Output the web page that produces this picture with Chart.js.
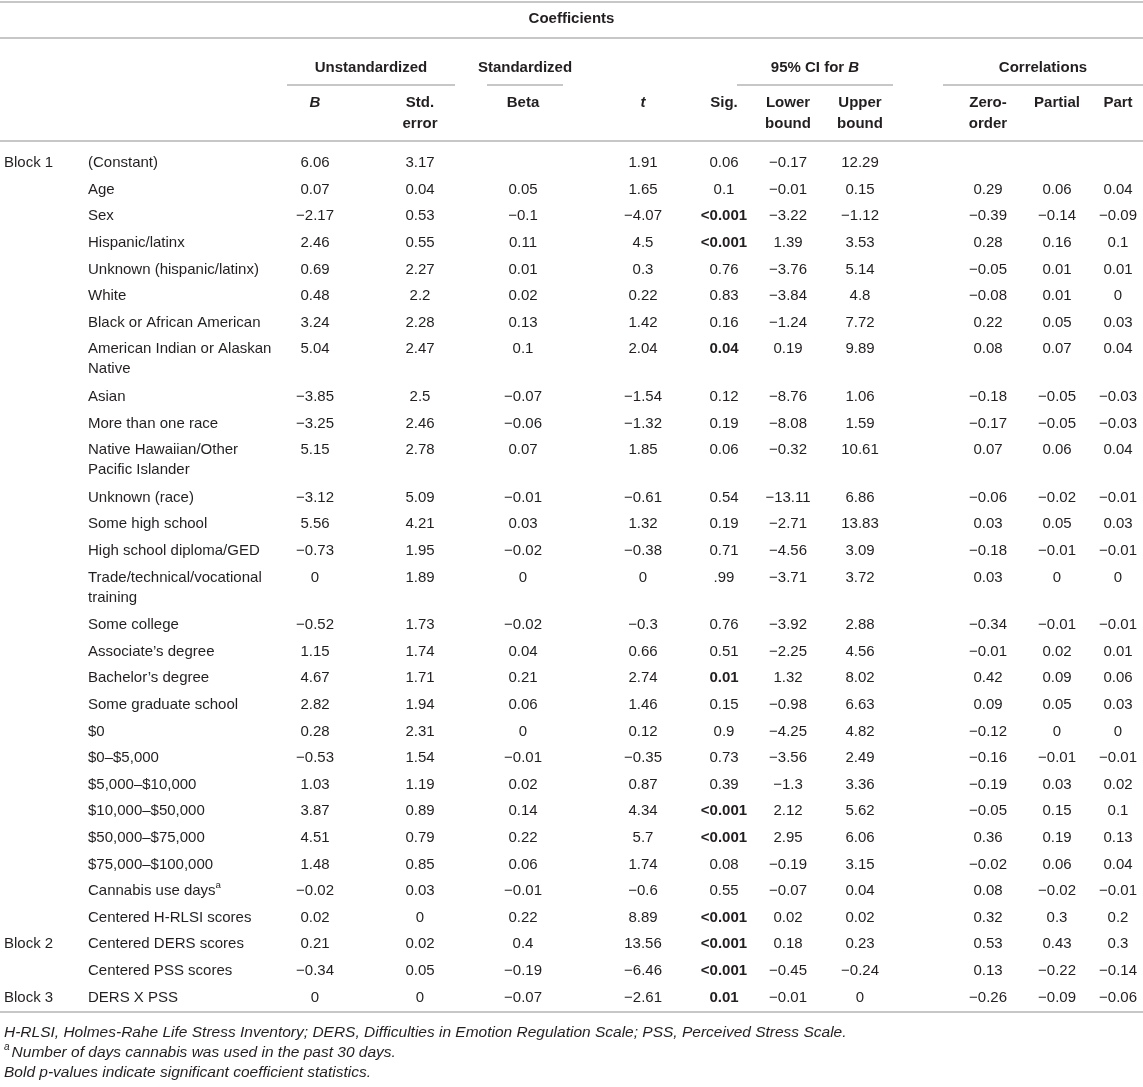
<!DOCTYPE html>
<html>
<head>
<meta charset="utf-8">
<script src="https://cdn.jsdelivr.net/npm/chart.js@4.4.1/dist/chart.umd.min.js"></script>
<style>
  html, body { margin: 0; padding: 0; background: #fff; }
  #wrap { width: 1143px; height: 1087px; position: relative; }
</style>
</head>
<body>
<div id="wrap"><canvas id="myChart"></canvas></div>
<script>
// Coefficients table - values as printed
const blockLabels = ['Block 1', '', '', '', '', '', '', '', '', '', '', '', '', '', '', '', '', '', '', '', '', '', '', '', '', '', '', 'Block 2', '', 'Block 3'];
const predictors = [
    '(Constant)', 'Age', 'Sex', 'Hispanic/latinx', 'Unknown (hispanic/latinx)', 'White',
    'Black or African American', 'American Indian or Alaskan\nNative', 'Asian', 'More than one race',
    'Native Hawaiian/Other\nPacific Islander', 'Unknown (race)', 'Some high school', 'High school diploma/GED',
    'Trade/technical/vocational\ntraining', 'Some college', 'Associate\u2019s degree', 'Bachelor\u2019s degree',
    'Some graduate school', '$0', '$0\u2013$5,000', '$5,000\u2013$10,000', '$10,000\u2013$50,000',
    '$50,000\u2013$75,000', '$75,000\u2013$100,000', 'Cannabis use days^a', 'Centered H-RLSI scores',
    'Centered DERS scores', 'Centered PSS scores', 'DERS X PSS'
];
const bUnstd = [6.06, 0.07, -2.17, 2.46, 0.69, 0.48, 3.24, 5.04, -3.85, -3.25, 5.15, -3.12, 5.56, -0.73, 0, -0.52, 1.15, 4.67, 2.82, 0.28, -0.53, 1.03, 3.87, 4.51, 1.48, -0.02, 0.02, 0.21, -0.34, 0];
const stdError = [3.17, 0.04, 0.53, 0.55, 2.27, 2.2, 2.28, 2.47, 2.5, 2.46, 2.78, 5.09, 4.21, 1.95, 1.89, 1.73, 1.74, 1.71, 1.94, 2.31, 1.54, 1.19, 0.89, 0.79, 0.85, 0.03, 0, 0.02, 0.05, 0];
const betaStd = [null, 0.05, -0.1, 0.11, 0.01, 0.02, 0.13, 0.1, -0.07, -0.06, 0.07, -0.01, 0.03, -0.02, 0, -0.02, 0.04, 0.21, 0.06, 0, -0.01, 0.02, 0.14, 0.22, 0.06, -0.01, 0.22, 0.4, -0.19, -0.07];
const tValues = [1.91, 1.65, -4.07, 4.5, 0.3, 0.22, 1.42, 2.04, -1.54, -1.32, 1.85, -0.61, 1.32, -0.38, 0, -0.3, 0.66, 2.74, 1.46, 0.12, -0.35, 0.87, 4.34, 5.7, 1.74, -0.6, 8.89, 13.56, -6.46, -2.61];
const sigValues = ['0.06', '0.1', '<0.001', '<0.001', '0.76', '0.83', '0.16', '0.04', '0.12', '0.19', '0.06', '0.54', '0.19', '0.71', '.99', '0.76', '0.51', '0.01', '0.15', '0.9', '0.73', '0.39', '<0.001', '<0.001', '0.08', '0.55', '<0.001', '<0.001', '<0.001', '0.01'];
const ciLower = [-0.17, -0.01, -3.22, 1.39, -3.76, -3.84, -1.24, 0.19, -8.76, -8.08, -0.32, -13.11, -2.71, -4.56, -3.71, -3.92, -2.25, 1.32, -0.98, -4.25, -3.56, -1.3, 2.12, 2.95, -0.19, -0.07, 0.02, 0.18, -0.45, -0.01];
const ciUpper = [12.29, 0.15, -1.12, 3.53, 5.14, 4.8, 7.72, 9.89, 1.06, 1.59, 10.61, 6.86, 13.83, 3.09, 3.72, 2.88, 4.56, 8.02, 6.63, 4.82, 2.49, 3.36, 5.62, 6.06, 3.15, 0.04, 0.02, 0.23, -0.24, 0];
const zeroOrder = [null, 0.29, -0.39, 0.28, -0.05, -0.08, 0.22, 0.08, -0.18, -0.17, 0.07, -0.06, 0.03, -0.18, 0.03, -0.34, -0.01, 0.42, 0.09, -0.12, -0.16, -0.19, -0.05, 0.36, -0.02, 0.08, 0.32, 0.53, 0.13, -0.26];
const partialCorr = [null, 0.06, -0.14, 0.16, 0.01, 0.01, 0.05, 0.07, -0.05, -0.05, 0.06, -0.02, 0.05, -0.01, 0, -0.01, 0.02, 0.09, 0.05, 0, -0.01, 0.03, 0.15, 0.19, 0.06, -0.02, 0.3, 0.43, -0.22, -0.09];
const partCorr = [null, 0.04, -0.09, 0.1, 0.01, 0, 0.03, 0.04, -0.03, -0.03, 0.04, -0.01, 0.03, -0.01, 0, -0.01, 0.01, 0.06, 0.03, 0, -0.01, 0.02, 0.1, 0.13, 0.04, -0.01, 0.2, 0.3, -0.14, -0.06];

const groupHeaders = ['Unstandardized', 'Standardized', '95% CI for *B*', 'Correlations'];
const columnHeaders = [['*B*'], ['Std.', 'error'], ['Beta'], ['*t*'], ['Sig.'], ['Lower', 'bound'], ['Upper', 'bound'], ['Zero-', 'order'], ['Partial'], ['Part']];
const footnotes = [
    'H-RLSI, Holmes-Rahe Life Stress Inventory; DERS, Difficulties in Emotion Regulation Scale; PSS, Perceived Stress Scale.',
    '^aNumber of days cannabis was used in the past 30 days.',
    'Bold p-values indicate significant coefficient statistics.'
];

// layout (pixels)
const W = 1143, H = 1087;
const FONT = '"Liberation Sans", Arial, sans-serif';
const TEXT = '#231f20';
const RULE = '#b4b4b4';
const colX = [315, 420, 523, 643, 724, 788, 860, 988, 1057, 1118];
const groupSpan = [[287, 455], [487, 563], [737, 893], [943, 1143]];
const BLOCK_X = 4, LABEL_X = 88;
const BODY_TOP = 150, ROW_H = 26.6, ROW_H2 = 47.6, LINE_GAP = 20;

const fmt = v => v === null ? '' : String(v).replace('-', '\u2212');
const isBold = s => parseFloat(s.replace('<', '')) < 0.05;

// first-line position of each row, built from how many lines its label takes
const rowY = [];
let acc = BODY_TOP;
predictors.forEach(p => {
    rowY.push(acc + 13);
    acc += p.includes('\n') ? ROW_H2 : ROW_H;
});
const BODY_BOTTOM = acc + 1;

function colDataset(x, texts, align, boldFn) {
    return {
        data: texts.map((t, i) => ({x: x, y: rowY[i]})),
        texts: texts,
        align: align,
        boldFn: boldFn,
        pointRadius: 0,
        pointHoverRadius: 0
    };
}

const valueCols = [bUnstd, stdError, betaStd, tValues, null, ciLower, ciUpper, zeroOrder, partialCorr, partCorr];
const datasets = [
    colDataset(BLOCK_X, blockLabels, 'left'),
    colDataset(LABEL_X, predictors, 'left')
];
valueCols.forEach((col, j) => {
    if (col === null) datasets.push(colDataset(colX[j], sigValues, 'center', isBold));
    else datasets.push(colDataset(colX[j], col.map(fmt), 'center'));
});

// draws text with *italic* parts and ^superscript
function richText(ctx, str, x, y, size, weight, style, align) {
    const parts = [];
    str.split(/(\*[^*]+\*|\^[a-z])/).forEach(s => {
        if (!s) return;
        if (s[0] === '*') parts.push({t: s.slice(1, -1), italic: true, sup: false});
        else if (s[0] === '^') parts.push({t: s.slice(1), italic: style === 'italic', sup: true});
        else parts.push({t: s, italic: style === 'italic', sup: false});
    });
    const fontOf = p => (p.italic ? 'italic ' : '') + weight + ' ' + (p.sup ? size * 0.65 : size) + 'px ' + FONT;
    let total = 0;
    parts.forEach(p => { ctx.font = fontOf(p); p.w = ctx.measureText(p.t).width + (p.sup ? 2 : 0); total += p.w; });
    let cx = align === 'center' ? x - total / 2 : x;
    ctx.textAlign = 'left';
    parts.forEach(p => {
        ctx.font = fontOf(p);
        ctx.fillText(p.t, cx, p.sup ? y - size * 0.35 : y);
        cx += p.w;
    });
}

function hline(ctx, x1, x2, y, w) {
    ctx.beginPath();
    ctx.lineWidth = w || 1.5;
    ctx.strokeStyle = RULE;
    ctx.moveTo(x1, y);
    ctx.lineTo(x2, y);
    ctx.stroke();
}

const tablePlugin = {
    id: 'tablePlugin',
    afterDatasetsDraw(chart) {
        const ctx = chart.ctx;
        const xs = chart.scales.x, ys = chart.scales.y;
        const px = v => xs.getPixelForValue(v);
        const py = v => ys.getPixelForValue(v);
        ctx.save();
        ctx.fillStyle = TEXT;
        ctx.textBaseline = 'middle';

        // header
        hline(ctx, px(0), px(W), py(2));
        richText(ctx, 'Coefficients', px(W / 2), py(19), 15, 'bold', 'normal', 'center');
        hline(ctx, px(0), px(W), py(38));
        groupHeaders.forEach((g, k) => {
            const [a, b] = groupSpan[k];
            richText(ctx, g, px((a + b) / 2), py(68), 15, 'bold', 'normal', 'center');
            hline(ctx, px(a), px(b), py(85));
        });
        columnHeaders.forEach((lines, j) => {
            lines.forEach((l, k) => richText(ctx, l, px(colX[j]), py(103 + k * 21), 15, 'bold', 'normal', 'center'));
        });
        hline(ctx, px(0), px(W), py(141));

        // body cells
        chart.data.datasets.forEach((ds, di) => {
            const meta = chart.getDatasetMeta(di);
            meta.data.forEach((pt, i) => {
                const txt = ds.texts[i];
                if (txt === null || txt === '') return;
                const weight = ds.boldFn && ds.boldFn(txt) ? 'bold' : 'normal';
                txt.split('\n').forEach((line, k) => {
                    richText(ctx, line, pt.x, pt.y + k * LINE_GAP, 15, weight, 'normal', ds.align);
                });
            });
        });
        hline(ctx, px(0), px(W), py(BODY_BOTTOM));

        // notes
        footnotes.forEach((f, k) => {
            richText(ctx, f, px(BLOCK_X), py(1033 + k * 20), 15.5, 'normal', 'italic', 'left');
        });
        ctx.restore();
    }
};

const ctx = document.getElementById('myChart').getContext('2d');
const myChart = new Chart(ctx, {
    type: 'scatter',
    data: { datasets: datasets },
    options: {
        responsive: true,
        maintainAspectRatio: false,
        animation: false,
        layout: { padding: 0 },
        plugins: {
            legend: { display: false },
            tooltip: { enabled: false }
        },
        scales: {
            x: { type: 'linear', min: 0, max: W, display: false },
            y: { type: 'linear', min: 0, max: H, reverse: true, display: false }
        }
    },
    plugins: [tablePlugin]
});
</script>
</body>
</html>
